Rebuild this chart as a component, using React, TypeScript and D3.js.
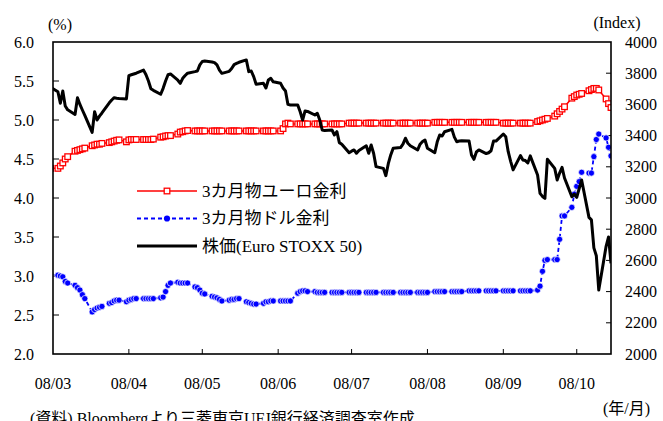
import React from "react";
import * as d3 from "d3";

// 3-month Euro rate (%), one value per business day from 2008-02-29 to 2008-10-15
const euroRate = [
  4.38,
  4.38, 4.41, 4.45, 4.5, 4.53,
  4.6, 4.61, 4.62, 4.63, 4.64,
  4.67, 4.68, 4.69, 4.69, 4.7,
  4.71, 4.72, 4.73, 4.74, 4.745,
  4.72, 4.745, 4.75, 4.75, 4.75,
  4.75, 4.75, 4.75, 4.75, 4.755,
  4.78, 4.785, 4.795, 4.8, 4.8,
  4.82, 4.845, 4.85, 4.86, 4.865,
  4.86, 4.86, 4.86, 4.86, 4.86,
  4.86, 4.86, 4.86, 4.86, 4.86,
  4.86, 4.86, 4.86, 4.86, 4.86,
  4.86, 4.86, 4.86, 4.86, 4.86,
  4.86, 4.86, 4.86, 4.86, 4.86,
  4.86, 4.89, 4.95, 4.96, 4.95,
  4.95, 4.95, 4.95, 4.95, 4.95,
  4.95, 4.95, 4.95, 4.95, 4.95,
  4.95, 4.95, 4.95, 4.95, 4.95,
  4.96, 4.96, 4.96, 4.96, 4.96,
  4.96, 4.96, 4.96, 4.96, 4.96,
  4.96, 4.96, 4.96, 4.96, 4.96,
  4.96, 4.96, 4.96, 4.96, 4.96,
  4.96, 4.96, 4.96, 4.96, 4.96,
  4.97, 4.97, 4.97, 4.97, 4.97,
  4.97, 4.97, 4.97, 4.97, 4.97,
  4.97, 4.97, 4.97, 4.97, 4.97,
  4.97, 4.97, 4.97, 4.97, 4.97,
  4.96, 4.96, 4.96, 4.96, 4.96,
  4.96, 4.96, 4.96, 4.96, 4.96,
  4.98, 4.99, 5.0, 5.01, 5.02,
  5.05, 5.08, 5.11, 5.14, 5.17,
  5.28, 5.3, 5.32, 5.33, 5.34,
  5.375, 5.39, 5.405, 5.405, 5.385,
  5.27, 5.21, 5.16,
];

// 3-month Dollar rate (%)
const dollarRate = [
  3.02,
  3.01, 3.0, 2.99, 2.93, 2.91,
  2.88, 2.85, 2.82, 2.76, 2.71,
  2.54, 2.57, 2.59, 2.6, 2.61,
  2.65, 2.66, 2.68, 2.69, 2.69,
  2.67, 2.69, 2.7, 2.71, 2.71,
  2.71, 2.71, 2.71, 2.71, 2.71,
  2.72, 2.73, 2.8, 2.88, 2.91,
  2.92, 2.91, 2.91, 2.91, 2.91,
  2.86, 2.85, 2.82, 2.78, 2.77,
  2.74, 2.73, 2.72, 2.7, 2.68,
  2.69, 2.7, 2.7, 2.71, 2.71,
  2.67, 2.66, 2.65, 2.64, 2.64,
  2.65, 2.67, 2.67, 2.68, 2.68,
  2.68, 2.68, 2.68, 2.68, 2.68,
  2.78, 2.8, 2.81, 2.81, 2.8,
  2.8, 2.79, 2.79, 2.79, 2.79,
  2.79, 2.79, 2.79, 2.79, 2.79,
  2.79, 2.79, 2.79, 2.79, 2.79,
  2.79, 2.79, 2.79, 2.79, 2.79,
  2.79, 2.79, 2.79, 2.79, 2.79,
  2.79, 2.79, 2.79, 2.79, 2.79,
  2.79, 2.79, 2.79, 2.79, 2.79,
  2.8, 2.8, 2.8, 2.8, 2.8,
  2.8, 2.8, 2.8, 2.8, 2.8,
  2.81, 2.81, 2.81, 2.81, 2.81,
  2.81, 2.81, 2.81, 2.81, 2.81,
  2.81, 2.81, 2.81, 2.81, 2.81,
  2.81, 2.81, 2.81, 2.81, 2.81,
  2.82, 2.87, 3.06, 3.2, 3.21,
  3.21, 3.21, 3.47, 3.77, 3.77,
  3.88, 4.05, 4.15, 4.21, 4.33,
  4.32, 4.32, 4.53, 4.75, 4.82,
  4.77, 4.65, 4.54,
];

// Euro STOXX 50 index level
const stoxx = [
  3710,
  3681, 3607, 3686, 3590, 3565,
  3535, 3643, 3600, 3564, 3530,
  3421, 3553, 3500, 3525, 3545,
  3610, 3628, 3643, 3640, 3638,
  3635, 3784, 3790, 3795, 3800,
  3820, 3790, 3750, 3700, 3690,
  3665, 3703, 3750, 3790, 3795,
  3755, 3735, 3767, 3785, 3800,
  3810, 3814, 3853, 3875, 3878,
  3872, 3868, 3853, 3820, 3799,
  3812, 3830, 3855, 3863, 3870,
  3885, 3810, 3814, 3778, 3729,
  3735, 3705, 3756, 3767, 3745,
  3735, 3705, 3686, 3600, 3596,
  3596, 3553, 3500, 3558, 3555,
  3532, 3543, 3500, 3436, 3432,
  3436, 3404, 3425, 3355, 3345,
  3290, 3300, 3308, 3287, 3305,
  3335, 3287, 3340, 3287, 3201,
  3190, 3143, 3220, 3276, 3319,
  3323, 3345, 3383, 3351, 3335,
  3308, 3345, 3362, 3372, 3319,
  3290, 3360, 3404, 3397, 3425,
  3440, 3390, 3361, 3365, 3367,
  3365, 3276, 3248, 3295, 3308,
  3285, 3290, 3303, 3365, 3365,
  3410, 3393, 3297, 3235, 3180,
  3272, 3244, 3240, 3225, 3270,
  3147, 3030, 3010, 2998, 3248,
  3190, 3115, 3160, 3197, 3128,
  3008, 3025, 3004, 3060, 3115,
  2876, 2860, 2680, 2630, 2410,
  2690, 2750, 2581,
];

const leftTicks = [2.0, 2.5, 3.0, 3.5, 4.0, 4.5, 5.0, 5.5, 6.0];
const rightTicks = [2000, 2200, 2400, 2600, 2800, 3000, 3200, 3400, 3600, 3800, 4000];
const monthLabels = ["08/03", "08/04", "08/05", "08/06", "08/07", "08/08", "08/09", "08/10"];

const seriesNames = ["3カ月物ユーロ金利", "3カ月物ドル金利", "株価(Euro STOXX 50)"];

const W = 663;
const H = 421;
const L = 53;
const R = 611;
const T = 42;
const B = 354;
const FONT = "'Liberation Serif', 'Times New Roman', 'Noto Sans CJK JP', serif";

// trading days (weekdays) in the sample window
const days = d3
  .timeDay.range(new Date(2008, 1, 29), new Date(2008, 9, 16))
  .filter((d) => d.getDay() !== 0 && d.getDay() !== 6);

export default function App() {
  const x = d3.scaleTime().domain([new Date(2008, 2, 1), new Date(2008, 9, 15)]).range([L, R]);
  const yL = d3.scaleLinear().domain([2, 6]).range([B, T]);
  const yR = d3.scaleLinear().domain([2000, 4000]).range([B, T]);
  const months = d3.timeMonth.range(new Date(2008, 2, 1), new Date(2008, 9, 2));

  const n = Math.min(days.length, euroRate.length, dollarRate.length, stoxx.length);
  const idx = d3.range(n);

  const lineL = (vals: number[]) =>
    d3.line<number>().x((i) => x(days[i])).y((i) => yL(vals[i]))(idx) || "";
  const lineStock =
    d3.line<number>().x((i) => x(days[i])).y((i) => yR(stoxx[i]))(idx) || "";

  const legendY = [191, 218.5, 246];
  const sq = 5.6;

  return (
    <svg
      width={W}
      height={H}
      style={{ position: "absolute", left: 0, top: 0, background: "#fff" }}
      fontFamily={FONT}
    >
      <defs>
        <clipPath id="plotClip">
          <rect x={L} y={T - 4} width={R - L} height={B - T + 4} />
        </clipPath>
      </defs>
      <rect x={0} y={0} width={W} height={H} fill="#fff" />

      {/* left axis ticks & labels */}
      {leftTicks.map((v) => (
        <g key={"l" + v}>
          {v > 2 && v < 6 && (
            <line x1={L} x2={L + 6} y1={yL(v)} y2={yL(v)} stroke="#000" strokeWidth={1} />
          )}
          <text x={34} y={yL(v)} dy="0.35em" textAnchor="end" fontSize={16} fill="#000">
            {v.toFixed(1)}
          </text>
        </g>
      ))}
      {/* right axis ticks & labels */}
      {rightTicks.map((v) => (
        <g key={"r" + v}>
          {v > 2000 && v < 4000 && (
            <line x1={R - 5} x2={R} y1={yR(v)} y2={yR(v)} stroke="#000" strokeWidth={1} />
          )}
          <text x={625} y={yR(v)} dy="0.35em" textAnchor="start" fontSize={16} fill="#000">
            {v}
          </text>
        </g>
      ))}
      {/* month ticks & labels */}
      {months.map((m, i) => (
        <g key={"m" + i}>
          {i > 0 && (
            <line x1={x(m)} x2={x(m)} y1={B} y2={B - 5} stroke="#000" strokeWidth={1} />
          )}
          <text x={x(m)} y={389} textAnchor="middle" fontSize={16} fill="#000">
            {monthLabels[i]}
          </text>
        </g>
      ))}

      <text x={60} y={30} textAnchor="middle" fontSize={16} fill="#000">(%)</text>
      <text x={617} y={28} textAnchor="middle" fontSize={16} fill="#000">(Index)</text>
      <text x={603} y={414} fontSize={16} fill="#000">(年/月)</text>
      <text x={30} y={424} fontSize={16} fill="#000">(資料) Bloombergより三菱東京UFJ銀行経済調査室作成</text>

      <g clipPath="url(#plotClip)">
        {/* euro rate */}
        <path d={lineL(euroRate)} fill="none" stroke="#ff0000" strokeWidth={1.5} />
        {idx.map((i) => (
          <rect
            key={"e" + i}
            x={x(days[i]) - sq / 2}
            y={yL(euroRate[i]) - sq / 2}
            width={sq}
            height={sq}
            fill="#fff"
            stroke="#ff0000"
            strokeWidth={1.3}
          />
        ))}
        {/* dollar rate */}
        <path
          d={lineL(dollarRate)}
          fill="none"
          stroke="#0000ff"
          strokeWidth={1.8}
          strokeDasharray="4,3"
        />
        {idx.map((i) => (
          <circle
            key={"d" + i}
            cx={x(days[i])}
            cy={yL(dollarRate[i])}
            r={3.1}
            fill="#0000ff"
            stroke="#fff"
            strokeWidth={0.7}
          />
        ))}
        {/* stock index */}
        <path d={lineStock} fill="none" stroke="#000" strokeWidth={3} strokeLinejoin="round" />
      </g>

      {/* plot frame */}
      <rect x={L} y={T} width={R - L} height={B - T} fill="none" stroke="#000" strokeWidth={1.6} />

      {/* legend */}
      <g>
        <line x1={137} x2={197} y1={legendY[0]} y2={legendY[0]} stroke="#ff0000" strokeWidth={1.5} />
        <rect x={167 - sq / 2} y={legendY[0] - sq / 2} width={sq} height={sq} fill="#fff" stroke="#ff0000" strokeWidth={1.3} />
        <line
          x1={137}
          x2={197}
          y1={legendY[1]}
          y2={legendY[1]}
          stroke="#0000ff"
          strokeWidth={1.8}
          strokeDasharray="4,3"
        />
        <circle cx={167} cy={legendY[1]} r={3.1} fill="#0000ff" />
        <line x1={137} x2={197} y1={legendY[2]} y2={legendY[2]} stroke="#000" strokeWidth={3} />
        {seriesNames.map((s, i) => (
          <text key={s} x={202} y={legendY[i]} dy="0.35em" fontSize={17} fill="#000">
            {s}
          </text>
        ))}
      </g>
    </svg>
  );
}
